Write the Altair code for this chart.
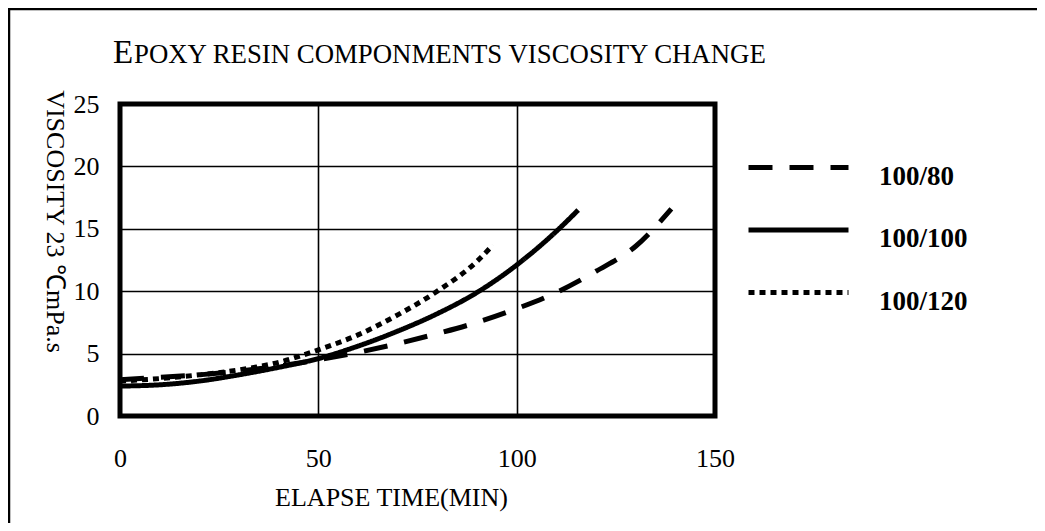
import altair as alt
import pandas as pd

# ---- data ----
series_names = ["100/80", "100/100", "100/120"]

x_80 = [0, 10, 20, 30, 40, 50, 60, 70, 80, 90, 100, 110, 120, 130, 139]
y_80 = [2.9, 3.1, 3.3, 3.6, 4.0, 4.5, 5.1, 5.8, 6.6, 7.5, 8.6, 9.9, 11.6, 13.6, 16.6]

x_100 = [0, 10, 20, 30, 40, 50, 60, 70, 80, 90, 100, 110, 115.5]
y_100 = [2.4, 2.5, 2.8, 3.3, 3.9, 4.6, 5.6, 6.8, 8.2, 9.9, 12.1, 14.8, 16.5]

x_120 = [0, 10, 20, 30, 40, 50, 60, 70, 80, 90, 94]
y_120 = [2.8, 3.0, 3.3, 3.7, 4.3, 5.3, 6.5, 8.1, 10.0, 12.4, 13.7]

x_ticks = [0, 50, 100, 150]
y_ticks = [0, 5, 10, 15, 20, 25]
x_domain = [0, 150]
y_domain = [0, 25]

title_first = "E"
title_rest = "POXY RESIN COMPONMENTS VISCOSITY CHANGE"
x_title = "ELAPSE TIME(MIN)"
y_title = "VISCOSITY 23 ℃mPa.s"

rows = []
for name, xs, ys in [(series_names[0], x_80, y_80),
                     (series_names[1], x_100, y_100),
                     (series_names[2], x_120, y_120)]:
    for i, (xv, yv) in enumerate(zip(xs, ys)):
        rows.append({"series": name, "t": xv, "v": yv, "i": i})
df = pd.DataFrame(rows)

FONT = "Liberation Serif"
W, H = 595, 312

xscale = alt.Scale(domain=x_domain, nice=False, zero=False)
yscale = alt.Scale(domain=y_domain, nice=False, zero=False)

lines = alt.Chart(df).mark_line(
    color="black", strokeWidth=5, interpolate="monotone", strokeCap="butt"
).encode(
    x=alt.X("t:Q", scale=xscale,
            axis=alt.Axis(values=x_ticks, title=x_title, grid=True, ticks=False,
                          tickSize=0, domain=False, labelPadding=29, labelFlush=False,
                          labelFont=FONT, labelFontSize=26, labelColor="black",
                          titleFont=FONT, titleFontSize=26, titleFontWeight="normal",
                          titleColor="black", titleX=271, titleY=81,
                          titleAlign="center", titleBaseline="middle",
                          gridColor="black", gridWidth=1.6, gridOpacity=1)),
    y=alt.Y("v:Q", scale=yscale,
            axis=alt.Axis(values=y_ticks, title=y_title, grid=True, ticks=False,
                          tickSize=0, domain=False, labelPadding=21,
                          labelFont=FONT, labelFontSize=26, labelColor="black",
                          labelBaseline="middle",
                          titleFont=FONT, titleFontSize=26, titleFontWeight="normal",
                          titleColor="black", titleAngle=90, titleX=-66, titleY=117,
                          titleAlign="center", titleBaseline="middle",
                          gridColor="black", gridWidth=1.6, gridOpacity=1)),
    strokeDash=alt.StrokeDash(
        "series:N",
        scale=alt.Scale(domain=series_names, range=[[24, 17], [1, 0], [6, 5]]),
        legend=alt.Legend(orient="none", legendX=626, legendY=49.5, title=None,
                          symbolType="M-1,0.08L1,0.08", symbolSize=10000,
                          symbolStrokeWidth=5, symbolStrokeColor="black",
                          symbolFillColor="transparent",
                          clipHeight=20, labelFont=FONT, labelFontSize=27,
                          labelFontWeight="bold", labelColor="black",
                          labelBaseline="top", labelOffset=28, rowPadding=26.5,
                          padding=0, labelLimit=300),
    ),
    detail="series:N",
    order="i:Q",
)

one = alt.Data(values=[{"k": 1}])

# thick plot frame drawn through the scales
plot_frame = alt.Chart(one).mark_rect(
    fill="transparent", stroke="black", strokeWidth=5
).encode(
    x=alt.datum(x_domain[0], scale=xscale), x2=alt.datum(x_domain[1]),
    y=alt.datum(y_domain[0], scale=yscale), y2=alt.datum(y_domain[1]),
)

title_e = alt.Chart(one).mark_text(
    text=title_first, font=FONT, fontSize=33, align="left", baseline="alphabetic",
    color="black"
).encode(x=alt.value(-7), y=alt.value(-41))

title_r = alt.Chart(one).mark_text(
    text=title_rest, font=FONT, fontSize=26.8, align="left", baseline="alphabetic",
    color="black"
).encode(x=alt.value(14), y=alt.value(-41))

# page frame: only its top and left edges fall inside the picture
page_top = alt.Chart(one).mark_rule(color="black", strokeWidth=2.5).encode(
    x=alt.value(-112), x2=alt.value(917), y=alt.value(-95)
)
page_left = alt.Chart(one).mark_rule(color="black", strokeWidth=2.5).encode(
    x=alt.value(-111), y=alt.value(-96), y2=alt.value(419)
)

chart = alt.layer(page_top, page_left, plot_frame, lines, title_e, title_r).properties(
    width=W, height=H,
    autosize=alt.AutoSizeParams(type="none"),
    padding={"left": 112, "top": 96, "right": 322, "bottom": 107},
).configure_view(
    stroke="transparent", strokeWidth=0
).configure(
    background="white"
)

chart.save("out.html", embed_options={"renderer": "svg", "actions": False})
